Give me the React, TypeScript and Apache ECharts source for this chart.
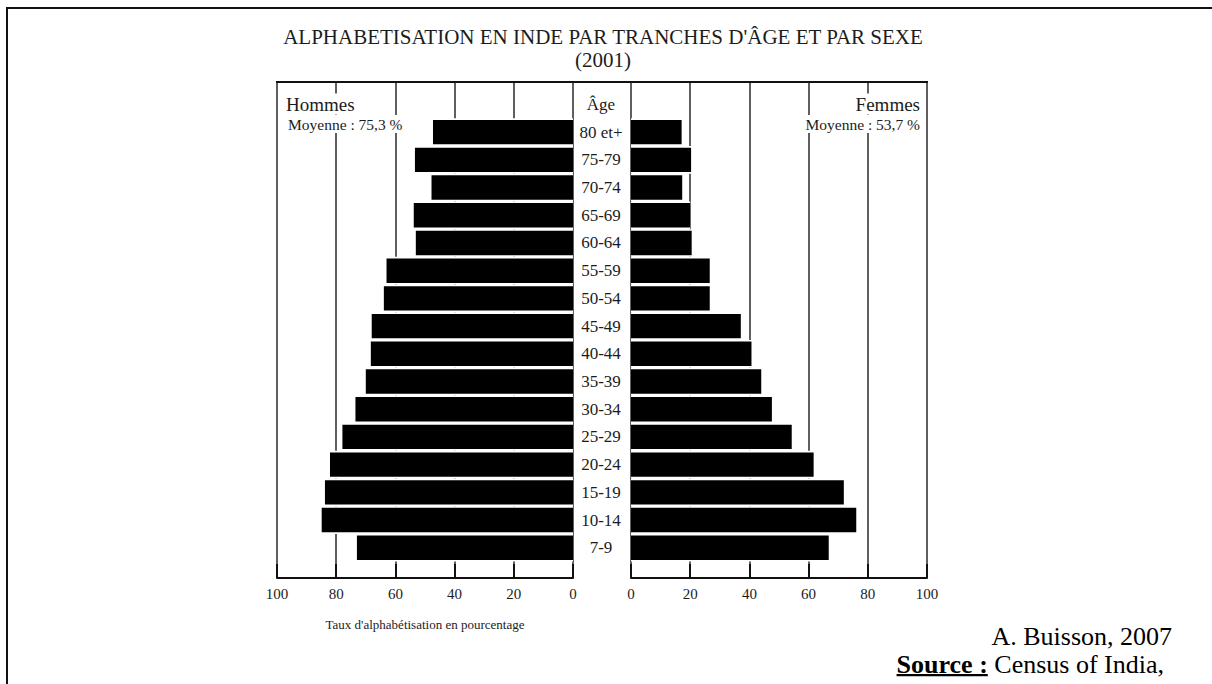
import React, { useEffect, useRef } from "react";
import * as echarts from "echarts";

// ---- data ----
const ageGroups = ["80 et+", "75-79", "70-74", "65-69", "60-64", "55-59", "50-54", "45-49", "40-44", "35-39", "30-34", "25-29", "20-24", "15-19", "10-14", "7-9"];
const hommes = [47.3, 53.4, 47.8, 53.8, 53.1, 63.0, 63.9, 68.0, 68.3, 70.0, 73.5, 77.9, 82.1, 83.8, 84.9, 73.0];
const femmes = [17.1, 20.3, 17.3, 20.0, 20.5, 26.6, 26.6, 37.1, 40.7, 44.0, 47.6, 54.3, 61.7, 71.9, 76.1, 66.8];
const axisMin = 0;
const axisMax = 100;
const axisStep = 20;

const titleLine1 = "ALPHABETISATION EN INDE PAR TRANCHES D'ÂGE ET PAR SEXE";
const titleLine2 = "(2001)";
const labelHommes = "Hommes";
const labelFemmes = "Femmes";
const moyHommes = "Moyenne : 75,3 %";
const moyFemmes = "Moyenne : 53,7 %";
const labelAge = "Âge";
const axisName = "Taux d'alphabétisation en pourcentage";
const author = "A. Buisson, 2007";
const sourceLabel = "Source :";
const sourceText = " Census of India,";

// ---- layout ----
const SERIF = "'Liberation Serif', 'DejaVu Serif', serif";
const TIMES = "'Liberation Serif', serif";
const LX = 277;
const RX = 631;
const AW = 296;
const FRAME_TOP = 82;
const AXIS_Y = 578;
const BAR_TOP = 118.3;
const BAR_H = 443.3;
const INK = "#1c1c1c";
const FOOT_SIZE = 26;
const FOOT_RIGHT = 1164;
const TITLE_SIZE = 21;

function measure(text: string, font: string): number {
  const c = document.createElement("canvas").getContext("2d");
  if (!c) return text.length * 10;
  c.font = font;
  return c.measureText(text).width;
}

function frameAxis(gridIndex: number, inverse: boolean, withName: boolean) {
  return {
    type: "value",
    gridIndex,
    inverse,
    min: axisMin,
    max: axisMax,
    interval: axisStep,
    position: "bottom",
    name: withName ? axisName : "",
    nameLocation: "middle",
    nameGap: 40,
    nameTextStyle: { fontFamily: SERIF, fontSize: 13, color: INK },
    axisLine: { show: true, lineStyle: { color: "#111", width: 2 } },
    axisTick: { show: true, inside: true, length: 14, lineStyle: { color: "#111", width: 2 } },
    axisLabel: { fontFamily: SERIF, fontSize: 15, color: INK, margin: 8 },
    splitLine: { show: true, lineStyle: { color: "#2a2a2a", width: 1.5 } },
  };
}

export default function App() {
  const ref = useRef<HTMLDivElement>(null);
  useEffect(() => {
    if (!ref.current) return;
    const chart = echarts.init(ref.current, undefined, { renderer: "svg" });
    const txtBg = { backgroundColor: "#fff", padding: [1, 2] };
    const wBold = measure(sourceLabel, `bold ${FOOT_SIZE}px ${TIMES}`);
    const wRest = measure(sourceText, `${FOOT_SIZE}px ${TIMES}`);
    const srcLeft = FOOT_RIGHT - wBold - wRest;
    chart.setOption({
      animation: false,
      backgroundColor: "#fff",
      grid: [
        { left: LX, top: BAR_TOP, width: AW, height: BAR_H },
        { left: RX, top: BAR_TOP, width: AW, height: BAR_H },
        { left: LX, top: FRAME_TOP, width: AW, height: AXIS_Y - FRAME_TOP },
        { left: RX, top: FRAME_TOP, width: AW, height: AXIS_Y - FRAME_TOP },
      ],
      xAxis: [
        { type: "value", gridIndex: 0, inverse: true, min: axisMin, max: axisMax, show: false },
        { type: "value", gridIndex: 1, min: axisMin, max: axisMax, show: false },
        frameAxis(2, true, true),
        frameAxis(3, false, false),
      ],
      yAxis: [
        {
          type: "category", gridIndex: 0, data: ageGroups, inverse: true, position: "right",
          axisLine: { show: false }, axisTick: { show: false },
          axisLabel: { align: "center", margin: 28, fontFamily: SERIF, fontSize: 17, color: INK },
        },
        { type: "category", gridIndex: 0, data: ageGroups, inverse: true, position: "left", show: false },
        { type: "category", gridIndex: 1, data: ageGroups, inverse: true, show: false },
        { type: "category", gridIndex: 1, data: ageGroups, inverse: true, position: "right", show: false },
        { type: "value", gridIndex: 2, min: 0, max: 1, show: false },
        { type: "value", gridIndex: 3, min: 0, max: 1, show: false },
      ],
      series: [
        { type: "bar", name: "fond H", xAxisIndex: 0, yAxisIndex: 1, data: hommes, barCategoryGap: "0%", itemStyle: { color: "#fff" }, silent: true },
        { type: "bar", name: "fond F", xAxisIndex: 1, yAxisIndex: 3, data: femmes, barCategoryGap: "0%", itemStyle: { color: "#fff" }, silent: true },
        { type: "bar", name: "Hommes", xAxisIndex: 0, yAxisIndex: 0, data: hommes, barCategoryGap: "12%", itemStyle: { color: "#000" } },
        { type: "bar", name: "Femmes", xAxisIndex: 1, yAxisIndex: 2, data: femmes, barCategoryGap: "12%", itemStyle: { color: "#000" } },
      ],
      graphic: [
        { type: "line", z: 100, shape: { x1: 6, y1: 8, x2: 1212, y2: 8 }, style: { stroke: "#111", lineWidth: 2 } },
        { type: "line", z: 100, shape: { x1: 7, y1: 7, x2: 7, y2: 684 }, style: { stroke: "#111", lineWidth: 2 } },
        { type: "line", z: 100, shape: { x1: LX - 1, y1: FRAME_TOP, x2: RX + AW + 1, y2: FRAME_TOP }, style: { stroke: "#111", lineWidth: 2 } },
        { type: "text", z: 100, x: 603, y: 37, style: { text: titleLine1, align: "center", verticalAlign: "middle", fontFamily: SERIF, fontSize: TITLE_SIZE, fill: INK } },
        { type: "text", z: 100, x: 603, y: 59.5, style: { text: titleLine2, align: "center", verticalAlign: "middle", fontFamily: SERIF, fontSize: TITLE_SIZE, fill: INK } },
        { type: "text", z: 100, x: 284, y: 104, style: { text: labelHommes, align: "left", verticalAlign: "middle", fontFamily: SERIF, fontSize: 19, fill: INK, ...txtBg } },
        { type: "text", z: 100, x: 286, y: 124, style: { text: moyHommes, align: "left", verticalAlign: "middle", fontFamily: SERIF, fontSize: 15.5, fill: INK, ...txtBg } },
        { type: "text", z: 100, x: 922, y: 104, style: { text: labelFemmes, align: "right", verticalAlign: "middle", fontFamily: SERIF, fontSize: 19, fill: INK, ...txtBg } },
        { type: "text", z: 100, x: 922, y: 124, style: { text: moyFemmes, align: "right", verticalAlign: "middle", fontFamily: SERIF, fontSize: 15.5, fill: INK, ...txtBg } },
        { type: "text", z: 100, x: 601, y: 104, style: { text: labelAge, align: "center", verticalAlign: "middle", fontFamily: SERIF, fontSize: 17, fill: INK } },
        { type: "text", z: 100, x: 1172, y: 636, style: { text: author, align: "right", verticalAlign: "middle", fontFamily: TIMES, fontSize: FOOT_SIZE, fill: "#000" } },
        {
          type: "text", z: 100, x: FOOT_RIGHT, y: 664,
          style: {
            text: `{b|${sourceLabel}}${sourceText}`, align: "right", verticalAlign: "middle",
            fontFamily: TIMES, fontSize: FOOT_SIZE, fill: "#000",
            rich: { b: { fontWeight: "bold", fontFamily: TIMES, fontSize: FOOT_SIZE, fill: "#000" } },
          },
        },
        { type: "rect", z: 100, shape: { x: srcLeft, y: 674, width: wBold, height: 2.2 }, style: { fill: "#000" } },
      ],
    });
    return () => chart.dispose();
  }, []);
  return <div ref={ref} style={{ position: "fixed", left: 0, top: 0, width: 1212, height: 684, background: "#fff" }} />;
}
